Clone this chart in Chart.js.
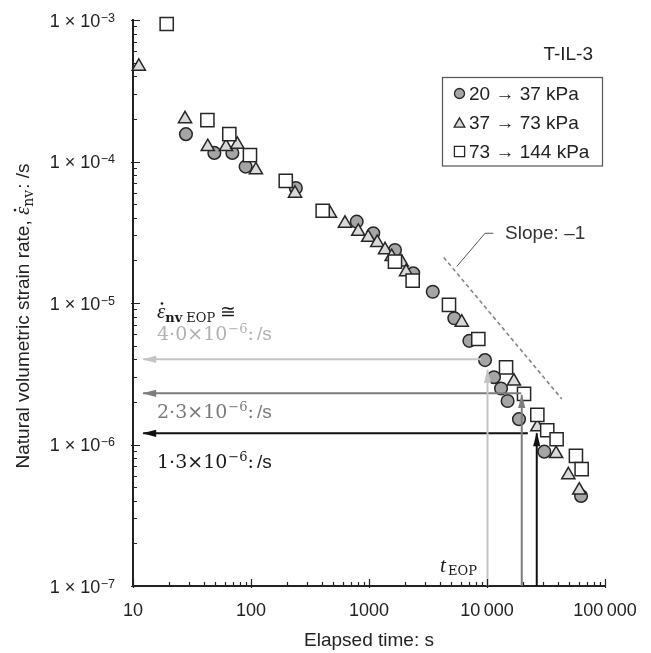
<!DOCTYPE html>
<html><head><meta charset="utf-8">
<script src="https://cdn.jsdelivr.net/npm/chart.js@4/dist/chart.umd.min.js"></script>
<style>html,body{margin:0;padding:0;background:#fff;}#wrap{width:651px;height:653px;}</style>
</head><body><div id="wrap"><canvas id="c" width="651" height="653"></canvas></div>
<script>
// ---------- data ----------
const seriesNames = ['20 \u2192 37 kPa', '37 \u2192 73 kPa', '73 \u2192 144 kPa'];
const sampleName = 'T-IL-3';

const circleT = [28.1, 48.9, 69.5, 90, 240, 787, 1087, 1660, 2371, 3470, 5285, 7080, 9620, 11460, 13150, 14950, 18670, 30600, 62700];
const circleV = [1.56e-4, 1.15e-4, 1.15e-4, 9.2e-5, 6.5e-5, 3.76e-5, 3.11e-5, 2.37e-5, 1.62e-5, 1.2e-5, 7.8e-6, 5.4e-6, 3.95e-6, 2.99e-6, 2.49e-6, 2.03e-6, 1.51e-6, 8.9e-7, 4.33e-7];

const triangleT = [11.2, 27.6, 43, 61.4, 76.6, 110, 236, 467, 626, 811, 985, 1175, 1368, 1556, 1893, 2061, 6110, 16900, 26700, 38500, 48900, 60500];
const triangleV = [4.7e-4, 2.0e-4, 1.27e-4, 1.27e-4, 1.32e-4, 8.7e-5, 5.95e-5, 4.3e-5, 3.65e-5, 3.2e-5, 2.9e-5, 2.67e-5, 2.37e-5, 2.12e-5, 1.94e-5, 1.66e-5, 7.3e-6, 2.8e-6, 1.33e-6, 8.6e-7, 6.1e-7, 4.75e-7];

const squareT = [19.3, 42.7, 65.5, 98, 197, 405, 1660, 2344, 4764, 8440, 14500, 20600, 26700, 32400, 38900, 56700, 63400];
const squareV = [9.37e-4, 1.96e-4, 1.56e-4, 1.11e-4, 7.3e-5, 4.49e-5, 1.96e-5, 1.44e-5, 9.7e-6, 5.57e-6, 3.51e-6, 2.28e-6, 1.62e-6, 1.26e-6, 1.09e-6, 8.3e-7, 6.7e-7];

// end-of-primary arrows
const eopRates = [4.0e-6, 2.3e-6, 1.2e-6];          // level of horizontal arrows
const eopRateFromT = [8900, 19500, 22200];          // start of horizontal arrows
const eopRateToT = 12.2;                            // tip of horizontal arrows
const eopTimes = [10100, 19700, 26400];             // t_EOP (vertical arrows)
const eopTimeTipV = [3.36e-6, 2.24e-6, 1.2e-6];     // tip of vertical arrows
const eopRateLabels = ['4\u00b70\u00d710', '2\u00b73\u00d710', '1\u00b73\u00d710'];
const eopRateExp = '\u22126';

// slope -1 reference line
const slopeT = [4300, 43000];
const slopeV = [2.1e-5, 2.1e-6];
const slopeLeaderT = [5540, 9620, 11300];
const slopeLeaderV = [1.81e-5, 3.11e-5, 3.11e-5];
const slopeLabel = 'Slope: \u20131';

// axes
const xMin = 10, xMax = 100000, yMin = 1e-7, yMax = 1e-3;
const xTickValues = [10, 100, 1000, 10000, 100000];
const xTickLabels = ['10', '100', '1000', '10\u2009000', '100\u2009000'];
const yTickValues = [1e-3, 1e-4, 1e-5, 1e-6, 1e-7];
const yTickExps = ['\u22123', '\u22124', '\u22125', '\u22126', '\u22127'];
const xTitle = 'Elapsed time: s';
const yTitleMain = 'Natural volumetric strain rate, ';
const yTitleTail = ': /s';

// ---------- chart ----------
const SANS = '"Liberation Sans", Arial, sans-serif';
const SERIF = '"DejaVu Serif", serif';
const ISERIF = '"Liberation Serif", "DejaVu Serif", serif';
const arrowColors = ['#c4c4c4', '#7c7c7c', '#111111'];
const textColors = ['#b2b2b2', '#7a7a7a', '#1a1a1a'];

const pts = (ts, vs) => ts.map((t, i) => ({x: t, y: vs[i]}));

const datasets = [];
datasets.push({label: seriesNames[0], data: pts(circleT, circleV), pointStyle: 'circle', pointRadius: 6.3,
  backgroundColor: '#a5a5a5', borderColor: '#262626', borderWidth: 1.5, showLine: false, order: 3, clip: false});
datasets.push({label: seriesNames[1], data: pts(triangleT, triangleV), pointStyle: 'triangle', pointRadius: 7.6,
  backgroundColor: '#d9d9d9', borderColor: '#262626', borderWidth: 1.5, showLine: false, order: 2, clip: false});
datasets.push({label: seriesNames[2], data: pts(squareT, squareV), pointStyle: 'rect', pointRadius: 9.3,
  backgroundColor: '#ffffff', borderColor: '#262626', borderWidth: 1.5, showLine: false, order: 1, clip: false});
for (let i = 0; i < 3; i++) {
  datasets.push({label: 'h' + i, data: [{x: eopRateFromT[i], y: eopRates[i]}, {x: eopRateToT, y: eopRates[i]}],
    showLine: true, pointRadius: 0, borderColor: arrowColors[i], borderWidth: 2, order: 0, arrow: true});
  datasets.push({label: 'v' + i, data: [{x: eopTimes[i], y: yMin}, {x: eopTimes[i], y: eopTimeTipV[i]}],
    showLine: true, pointRadius: 0, borderColor: arrowColors[i], borderWidth: 2, order: 0, arrow: true});
}
datasets.push({label: 'slope', data: pts(slopeT, slopeV), showLine: true, pointRadius: 0,
  borderColor: '#858585', borderWidth: 1.6, borderDash: [4, 3], order: 0});
datasets.push({label: 'leader', data: pts(slopeLeaderT, slopeLeaderV), showLine: true, pointRadius: 0,
  borderColor: '#555', borderWidth: 1, order: 0});

function drawArrowHead(ctx, x1, y1, x2, y2, color, len, hw) {
  const a = Math.atan2(y2 - y1, x2 - x1);
  const c = Math.cos(a), s = Math.sin(a);
  ctx.beginPath();
  ctx.moveTo(x2 + c, y2 + s);
  ctx.lineTo(x2 - len * c + hw * s, y2 - len * s - hw * c);
  ctx.lineTo(x2 - len * c - hw * s, y2 - len * s + hw * c);
  ctx.closePath();
  ctx.fillStyle = color;
  ctx.fill();
}

const decor = {
  id: 'decor',
  afterDatasetsDraw(chart) {
    const ctx = chart.ctx, xs = chart.scales.x, ys = chart.scales.y;
    ctx.save();
    chart.data.datasets.forEach((ds, i) => {
      if (!ds.arrow) return;
      const p0 = ds.data[0], p1 = ds.data[1];
      drawArrowHead(ctx, xs.getPixelForValue(p0.x), ys.getPixelForValue(p0.y),
        xs.getPixelForValue(p1.x), ys.getPixelForValue(p1.y), ds.borderColor, 13, 3.6);
    });
    ctx.restore();
  },
  afterDraw(chart) {
    const ctx = chart.ctx, xs = chart.scales.x, ys = chart.scales.y, ca = chart.chartArea;
    const x0 = ca.left, y0 = ca.bottom;
    ctx.save();
    // inward tick marks
    ctx.strokeStyle = '#222'; ctx.lineWidth = 1.2;
    ctx.beginPath();
    for (let e = 1; e <= 5; e++) {
      for (let k = 1; k <= 9; k++) {
        const v = k * Math.pow(10, e);
        if (v > xMax * 1.0001) break;
        const px = Math.round(xs.getPixelForValue(v)) + 0.5;
        if (k === 1) { ctx.moveTo(px, y0 + 2); ctx.lineTo(px, y0 - 7); }
        else { ctx.moveTo(px, y0); ctx.lineTo(px, y0 - 4); }
      }
    }
    for (let e = -7; e <= -3; e++) {
      for (let k = 1; k <= 9; k++) {
        const v = k * Math.pow(10, e);
        if (v > yMax * 1.0001) break;
        const py = Math.round(ys.getPixelForValue(v)) + 0.5;
        if (k === 1) { ctx.moveTo(x0 - 2, py); ctx.lineTo(x0 + 7, py); }
        else { ctx.moveTo(x0, py); ctx.lineTo(x0 + 4, py); }
      }
    }
    ctx.stroke();

    // y tick labels 1 × 10^n
    ctx.fillStyle = '#222';
    ctx.textBaseline = 'alphabetic';
    yTickValues.forEach((v, i) => {
      const py = ys.getPixelForValue(v);
      ctx.font = '12.5px ' + SANS;
      const sw = ctx.measureText(yTickExps[i]).width;
      ctx.textAlign = 'left';
      ctx.fillText(yTickExps[i], 115 - sw, py + 1.5);
      ctx.font = '18px ' + SANS;
      ctx.textAlign = 'right';
      ctx.fillText('1 \u00d7 10', 115 - sw - 0.5, py + 6.7);
    });

    // y axis title (rotated, mixed fonts)
    ctx.save();
    ctx.translate(28.5, 316);
    ctx.rotate(-Math.PI / 2);
    ctx.textAlign = 'left';
    const f1 = '19px ' + SANS, fe = 'italic 21px ' + ISERIF, fs = '14px ' + SERIF;
    ctx.font = f1; const w1 = ctx.measureText(yTitleMain).width;
    ctx.font = fe; const we = ctx.measureText('\u03b5').width;
    ctx.font = fs; const ws = ctx.measureText('nv').width;
    ctx.font = f1; const w3 = ctx.measureText(yTitleTail).width;
    let cx = -(w1 + we + ws + w3 + 1) / 2;
    ctx.font = f1; ctx.fillText(yTitleMain, cx, 0); cx += w1;
    ctx.font = fe; ctx.fillText('\u03b5', cx, 0);
    ctx.beginPath(); ctx.arc(cx + we * 0.6, -13.5, 1.3, 0, Math.PI * 2); ctx.fill();
    cx += we;
    ctx.font = fs; ctx.fillText('nv', cx, 4); cx += ws + 1;
    ctx.font = f1; ctx.fillText(yTitleTail, cx, 0);
    ctx.restore();

    // EOP rate annotation header: ε̇_nv EOP ≅
    ctx.fillStyle = '#1a1a1a';
    ctx.textAlign = 'left';
    let ax = 157;
    ctx.font = fe; ctx.fillText('\u03b5', ax, 318);
    const wEps = ctx.measureText('\u03b5').width;
    ctx.beginPath(); ctx.arc(ax + wEps * 0.6, 303.5, 1.3, 0, Math.PI * 2); ctx.fill();
    ax += wEps;
    ctx.font = 'bold 13px ' + SERIF; ctx.fillText('nv', ax, 322); ax += ctx.measureText('nv').width + 4;
    ctx.font = '13px ' + SERIF; ctx.fillText('EOP', ax, 322); ax += ctx.measureText('EOP').width + 5;
    ctx.font = '19px ' + SERIF; ctx.fillText('\u2245', ax, 318);

    // rate labels
    const labelBase = [340, 418, 468];
    eopRateLabels.forEach((lab, i) => {
      ctx.fillStyle = textColors[i];
      let lx = 157;
      ctx.font = '19px ' + SERIF; ctx.fillText(lab, lx, labelBase[i]); lx += ctx.measureText(lab).width + 1;
      ctx.font = '13px ' + SERIF; ctx.fillText(eopRateExp, lx, labelBase[i] - 7); lx += ctx.measureText(eopRateExp).width;
      ctx.font = '19px ' + SERIF; ctx.fillText(':', lx, labelBase[i]); lx += ctx.measureText(':').width + 3;
      ctx.font = '19px ' + SANS; ctx.fillText('/s', lx, labelBase[i]);
    });

    // t_EOP
    ctx.fillStyle = '#1a1a1a';
    ctx.font = 'italic 21px ' + ISERIF; ctx.fillText('t', 440, 572);
    ctx.font = '13px ' + SERIF; ctx.fillText('EOP', 448, 575);

    // slope label
    ctx.fillStyle = '#333';
    ctx.font = '19px ' + SANS;
    ctx.textBaseline = 'middle';
    ctx.fillText(slopeLabel, 505, 234);

    // sample name
    ctx.textAlign = 'right';
    ctx.fillStyle = '#222';
    ctx.fillText(sampleName, 593, 55);

    // legend
    ctx.strokeStyle = '#555'; ctx.lineWidth = 1.2;
    ctx.strokeRect(442.5, 77.5, 160, 88.5);
    const legY = [93.5, 122.5, 151.5];
    ctx.textAlign = 'left';
    [0, 1, 2].forEach(i => {
      const ds = chart.data.datasets[i];
      ctx.fillStyle = ds.backgroundColor; ctx.strokeStyle = ds.borderColor; ctx.lineWidth = 1.3;
      const r = ds.pointStyle === 'rect' ? 7.2 : (ds.pointStyle === 'triangle' ? 6.2 : 5);
      Chart.helpers.drawPoint(ctx, {pointStyle: ds.pointStyle, radius: r, borderWidth: 1.3, rotation: 0},
        459.5, legY[i] + (ds.pointStyle === 'triangle' ? 1.5 : 0));
      ctx.fillStyle = '#222';
      ctx.font = '19px ' + SANS;
      ctx.fillText(seriesNames[i], 469, legY[i] + 1);
    });
    ctx.restore();
  }
};

new Chart(document.getElementById('c'), {
  type: 'scatter',
  data: {datasets},
  options: {
    responsive: false,
    animation: false,
    events: [],
    devicePixelRatio: 1,
    layout: {padding: {left: 0, right: 46, top: 20, bottom: 0}},
    plugins: {legend: {display: false}, tooltip: {enabled: false}},
    scales: {
      x: {
        type: 'logarithmic', min: xMin, max: xMax, position: 'bottom',
        grid: {display: false, drawTicks: false},
        border: {display: true, color: '#222', width: 2},
        ticks: {
          autoSkip: false, maxRotation: 0, padding: 14, color: '#222',
          font: {family: SANS, size: 18},
          callback: (v) => {
            const i = xTickValues.findIndex(t => Math.abs(t - v) / t < 1e-6);
            return i >= 0 ? xTickLabels[i] : '';
          }
        },
        title: {display: true, text: xTitle, color: '#222', font: {family: SANS, size: 19}, padding: {top: 0, bottom: 1}},
        afterFit: (s) => { s.height = 67; }
      },
      y: {
        type: 'logarithmic', min: yMin, max: yMax, position: 'left',
        grid: {display: false, drawTicks: false},
        border: {display: true, color: '#222', width: 2},
        ticks: {display: false},
        afterFit: (s) => { s.width = 133; }
      }
    }
  },
  plugins: [decor]
});
</script>
</body></html>
